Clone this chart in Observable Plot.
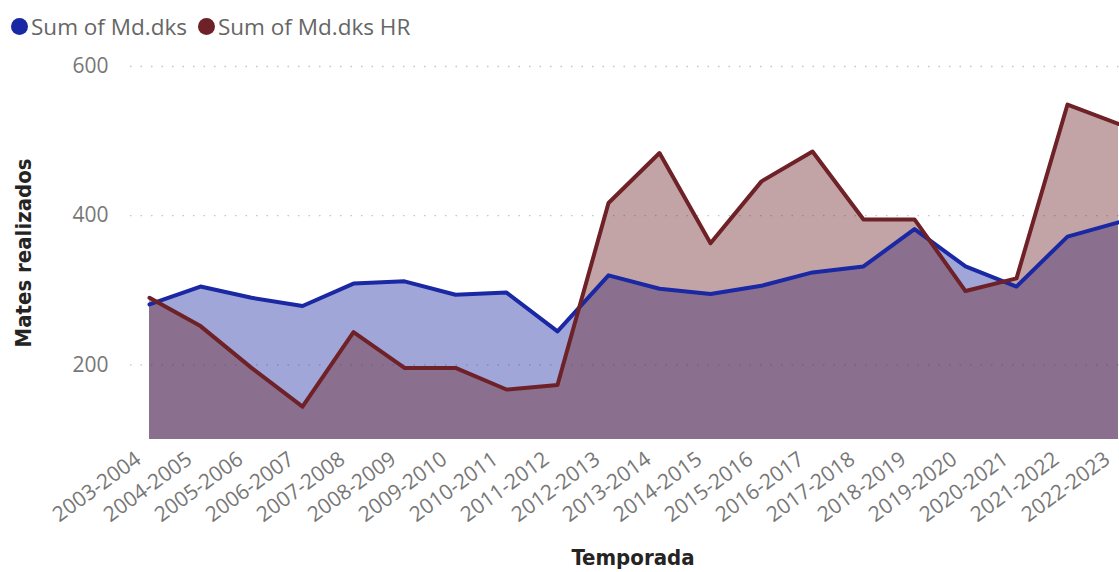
<!DOCTYPE html>
<html><head><meta charset="utf-8">
<script src="https://cdn.jsdelivr.net/npm/d3@7"></script>
<script src="https://cdn.jsdelivr.net/npm/@observablehq/plot@0.6"></script>
<style>
body{margin:0;background:#fff;}
#wrap{position:relative;width:1119px;height:572px;overflow:hidden}
#legend{position:absolute;left:11px;top:11px;display:flex;align-items:center;font-family:"Open Sans",sans-serif;font-size:22.5px;color:#666;white-space:nowrap;z-index:2}
.item{display:flex;align-items:center;margin-right:11px}
.dot{width:17px;height:17px;border-radius:50%;margin-right:3px}
#chart svg{display:block}
</style></head><body>
<div id="wrap"><div id="legend"></div><div id="chart"></div></div>
<script>
const seasons = ["2003-2004","2004-2005","2005-2006","2006-2007","2007-2008","2008-2009","2009-2010","2010-2011","2011-2012","2012-2013","2013-2014","2014-2015","2015-2016","2016-2017","2017-2018","2018-2019","2019-2020","2020-2021","2021-2022","2022-2023"];
const mdDks   = [281,305,290,279,309,312,294,297,245,320,302,295,306,324,332,382,332,305,372,391];
const mdDksHR = [290,252,196,144,244,196,196,167,173,417,484,363,446,486,395,395,299,316,549,523];
const seriesNames = ["Sum of Md.dks","Sum of Md.dks HR"];
const seriesColors = ["#1a28a3","#6e2127"];
const yTicks = [200,400,600];
const yDomain = [100,600];

const rows = [];
seasons.forEach((s,i)=>{
  rows.push({season:s, series:seriesNames[0], value:mdDks[i]});
  rows.push({season:s, series:seriesNames[1], value:mdDksHR[i]});
});
const blue = rows.filter(d=>d.series===seriesNames[0]);
const red = rows.filter(d=>d.series===seriesNames[1]);

// legend
const leg = document.getElementById("legend");
seriesNames.forEach((n,i)=>{
  const it=document.createElement("div");it.className="item";
  const d=document.createElement("span");d.className="dot";d.style.background=seriesColors[i];
  const t=document.createElement("span");t.textContent=n;
  it.appendChild(d);it.appendChild(t);leg.appendChild(it);
});

const chart = Plot.plot({
  width:1119, height:572,
  marginTop:66, marginBottom:133, marginLeft:130, marginRight:0,
  style:{fontFamily:"'Open Sans',sans-serif", background:"#fff"},
  x:{type:"point", domain:seasons, padding:0, insetLeft:17},
  y:{domain:yDomain},
  marks:[
    Plot.ruleY(yTicks,{stroke:"#c4c4c4", strokeWidth:1.3, strokeDasharray:"1.5,9"}),
    Plot.areaY(blue,{x:"season", y1:yDomain[0], y2:"value", fill:seriesColors[0], fillOpacity:0.41}),
    Plot.areaY(red,{x:"season", y1:yDomain[0], y2:"value", fill:seriesColors[1], fillOpacity:0.41}),
    Plot.lineY(blue,{x:"season", y:"value", stroke:seriesColors[0], strokeWidth:4, strokeLinejoin:"round"}),
    Plot.lineY(red,{x:"season", y:"value", stroke:seriesColors[1], strokeWidth:4, strokeLinejoin:"round"}),
    Plot.axisY(yTicks,{tickSize:0, tickPadding:22, fontSize:21, fill:"#777", label:null}),
    Plot.axisX(seasons,{tickSize:0, tickRotate:-36, fontSize:21, fill:"#777", label:null, dx:-11, dy:5}),
    Plot.text(["Mates realizados"],{frameAnchor:"left", textAnchor:"middle", dx:-107, rotate:-90, fontSize:22, fontWeight:"bold", fill:"#252423", fontFamily:"'DejaVu Sans Condensed',sans-serif"}),
    Plot.text(["Temporada"],{frameAnchor:"bottom", dx:8, dy:125, fontSize:22, fontWeight:"bold", fill:"#252423", fontFamily:"'DejaVu Sans Condensed',sans-serif"})
  ]
});
document.getElementById("chart").appendChild(chart);
</script>
</body></html>
